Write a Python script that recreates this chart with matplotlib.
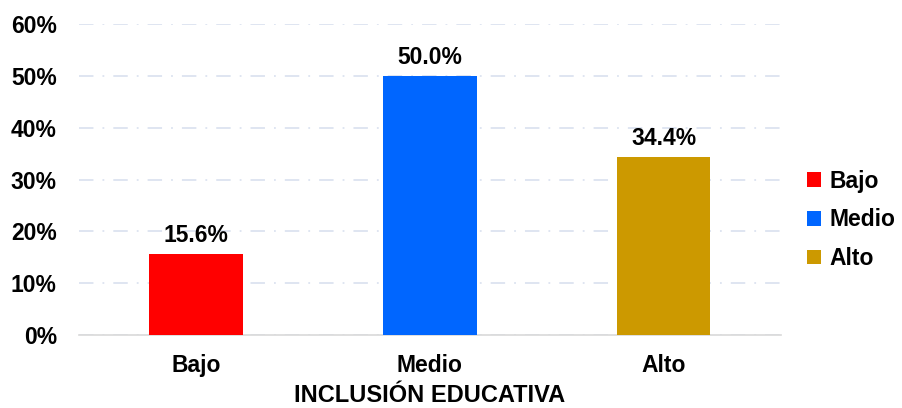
import matplotlib.pyplot as plt
from matplotlib.ticker import PercentFormatter

categories = ["Bajo", "Medio", "Alto"]
values = [15.6, 50.0, 34.4]
colors = ["#FF0000", "#0066FF", "#CC9900"]
yticks = [0, 10, 20, 30, 40, 50, 60]

plt.rcParams["font.family"] = ["Liberation Sans", "DejaVu Sans"]
plt.rcParams["font.weight"] = "bold"

fig = plt.figure(figsize=(9.03, 4.08), dpi=100)
ax = fig.add_axes([0.0875, 0.179, 0.777, 0.762])

bars = ax.bar(range(len(categories)), values, width=0.4, color=colors,
              label=categories, zorder=3)
for b, v in zip(bars, values):
    ax.text(b.get_x() + b.get_width() / 2, v + 1.3, f"{v:.1f}%",
            ha="center", va="bottom", fontsize=16.5, fontweight="bold")

ax.set_xlim(-0.5, 2.5)
ax.set_ylim(0, 60)
ax.set_yticks(yticks)
ax.yaxis.set_major_formatter(PercentFormatter(decimals=0))
ax.set_xticks(range(len(categories)))
ax.set_xticklabels(categories)
ax.tick_params(axis="both", length=0, labelsize=16.5)
ax.tick_params(axis="x", pad=14)
ax.tick_params(axis="y", pad=16)
ax.grid(axis="y", color="#DCE3F0", linestyle=(0, (8, 5, 1, 5)), linewidth=1.3, zorder=0)
for s in ["top", "right", "left"]:
    ax.spines[s].set_visible(False)
ax.spines["bottom"].set_color("#D9D9D9")
ax.spines["bottom"].set_linewidth(1.2)
ax.set_xlabel("INCLUSIÓN EDUCATIVA", fontsize=17, fontweight="bold", labelpad=5)

ax.legend(loc="center left", bbox_to_anchor=(1.008, 0.37), frameon=False,
          fontsize=16.5, handlelength=0.6, handleheight=0.6, handletextpad=0.4,
          labelspacing=0.68)

fig.savefig("out.png", dpi=100)
